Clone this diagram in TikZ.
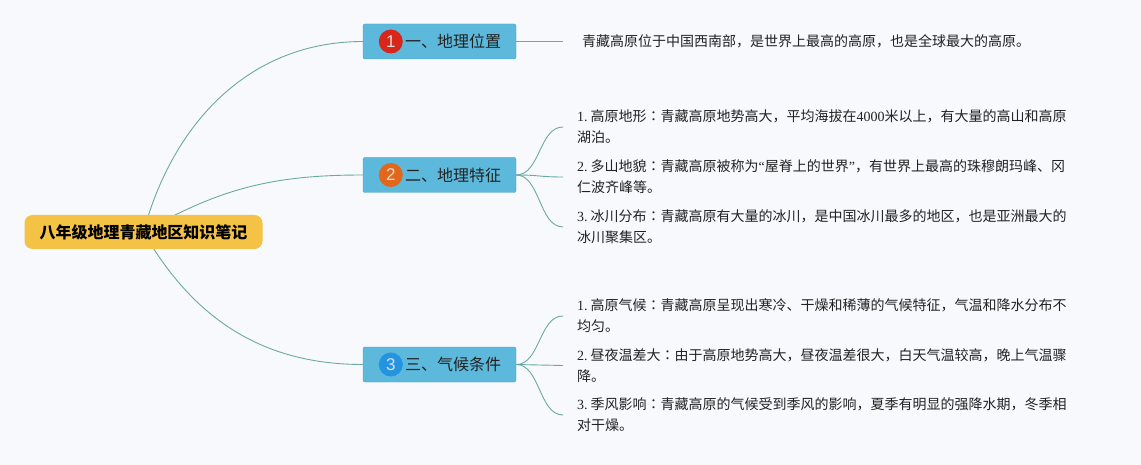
\documentclass[tikz,border=0pt]{standalone}
\usepackage{fontspec}
\setmainfont{Liberation Serif}
\newfontfamily\cjk{Noto Sans CJK SC}
\newfontfamily\cjktc{Noto Sans CJK TC}
\newfontfamily\numfont{Liberation Sans}
\usepackage{tikz}
\usetikzlibrary{positioning, calc, backgrounds}
\definecolor{paper}{HTML}{F7F9FC}
\definecolor{rootfill}{HTML}{F4C245}
\definecolor{boxfill}{HTML}{5DB9DC}
\definecolor{boxline}{HTML}{4A9CC0}
\definecolor{branch}{HTML}{6CA9A2}
\definecolor{numred}{HTML}{D8261B}
\definecolor{numorange}{HTML}{E2671B}
\definecolor{numblue}{HTML}{2494E0}
\definecolor{ink}{HTML}{222222}
\newcommand{\itemno}[1]{{\rmfamily #1.}\hspace{3pt}}
\newcommand{\colonmark}{{\cjktc ：}}

\begin{document}
\begin{tikzpicture}[x=1pt, y=-1pt,
    root/.style={fill=rootfill, rounded corners=8pt, minimum width=238pt, minimum height=34pt,
                 font=\cjk\fontsize{16}{18}\selectfont\bfseries},
    topic/.style={fill=boxfill, draw=boxline, rounded corners=2pt, minimum width=153pt,
                  minimum height=35pt, inner xsep=0pt, text=ink, font=\cjk\fontsize{16}{18}\selectfont},
    num/.style={circle, inner sep=0pt, minimum size=24pt, text=white!75!gray,
                font=\numfont\fontsize{17}{17}\selectfont},
    leaf/.style={anchor=west, inner xsep=14pt, inner ysep=0pt, text width=520pt, align=left,
                 text=ink, font=\cjk\fontsize{14}{21}\selectfont},
    link/.style={draw=branch, line width=0.9pt}]
  \useasboundingbox (0,0) rectangle (1141,465);

  % root and the three topics
  \node[root] (root) at (143.5,232) {八年级地理青藏地区知识笔记};
  \node[topic] (place) at (439.5,41.5) {\hspace*{27pt}一、地理位置};
  \node[topic] (feature) at (439.5,175) {\hspace*{27pt}二、地理特征};
  \node[topic] (climate) at (439.5,364.5) {\hspace*{27pt}三、气候条件};
  \node[num, fill=numred] (num1) at ($(place.west)+(28,0)$) {1};
  \node[num, fill=numorange] (num2) at ($(feature.west)+(28,0)$) {2};
  \node[num, fill=numblue] (num3) at ($(climate.west)+(28,0)$) {3};

  % notes
  \node[leaf] (place1) at (568,41.5) {青藏高原位于中国西南部，是世界上最高的高原，也是全球最大的高原。};
  \node[leaf] (feature1) at (563,127) {\itemno{1}高原地形\colonmark 青藏高原地势高大，平均海拔在{\rmfamily 4000}米以上，有大量的高山和高原\\湖泊。};
  \node[leaf] (feature2) at (563,177) {\itemno{2}多山地貌\colonmark 青藏高原被称为{\rmfamily “}屋脊上的世界{\rmfamily ”}，有世界上最高的珠穆朗玛峰、冈\\仁波齐峰等。};
  \node[leaf] (feature3) at (563,227) {\itemno{3}冰川分布\colonmark 青藏高原有大量的冰川，是中国冰川最多的地区，也是亚洲最大的\\冰川聚集区。};
  \node[leaf] (climate1) at (563,316) {\itemno{1}高原气候\colonmark 青藏高原呈现出寒冷、干燥和稀薄的气候特征，气温和降水分布不\\均匀。};
  \node[leaf] (climate2) at (563,365.5) {\itemno{2}昼夜温差大\colonmark 由于高原地势高大，昼夜温差很大，白天气温较高，晚上气温骤\\降。};
  \node[leaf] (climate3) at (563,415) {\itemno{3}季风影响\colonmark 青藏高原的气候受到季风的影响，夏季有明显的强降水期，冬季相\\对干燥。};

  \begin{scope}[on background layer]
    \fill[paper] (0,0) rectangle (1141,465);
    \draw[link] (root.center) .. controls +(29,-108) and +(-114,0) .. (place.west);
    \draw[link] (root.center) .. controls +(77,-44) and +(-89,0) .. (feature.west);
    \draw[link] (root.center) .. controls +(50,87) and +(-100,0) .. (climate.west);
  \end{scope}

  \draw[link] (place.east) -- +(47,0);
  \draw[link] (feature.east) .. controls +(24,0) and +(-24,0) .. (feature1.west);
  \draw[link] (feature.east) .. controls +(24,0) and +(-24,0) .. (feature2.west);
  \draw[link] (feature.east) .. controls +(24,0) and +(-24,0) .. (feature3.west);
  \draw[link] (climate.east) .. controls +(24,0) and +(-24,0) .. (climate1.west);
  \draw[link] (climate.east) .. controls +(24,0) and +(-24,0) .. (climate2.west);
  \draw[link] (climate.east) .. controls +(24,0) and +(-24,0) .. (climate3.west);
\end{tikzpicture}
\end{document}
